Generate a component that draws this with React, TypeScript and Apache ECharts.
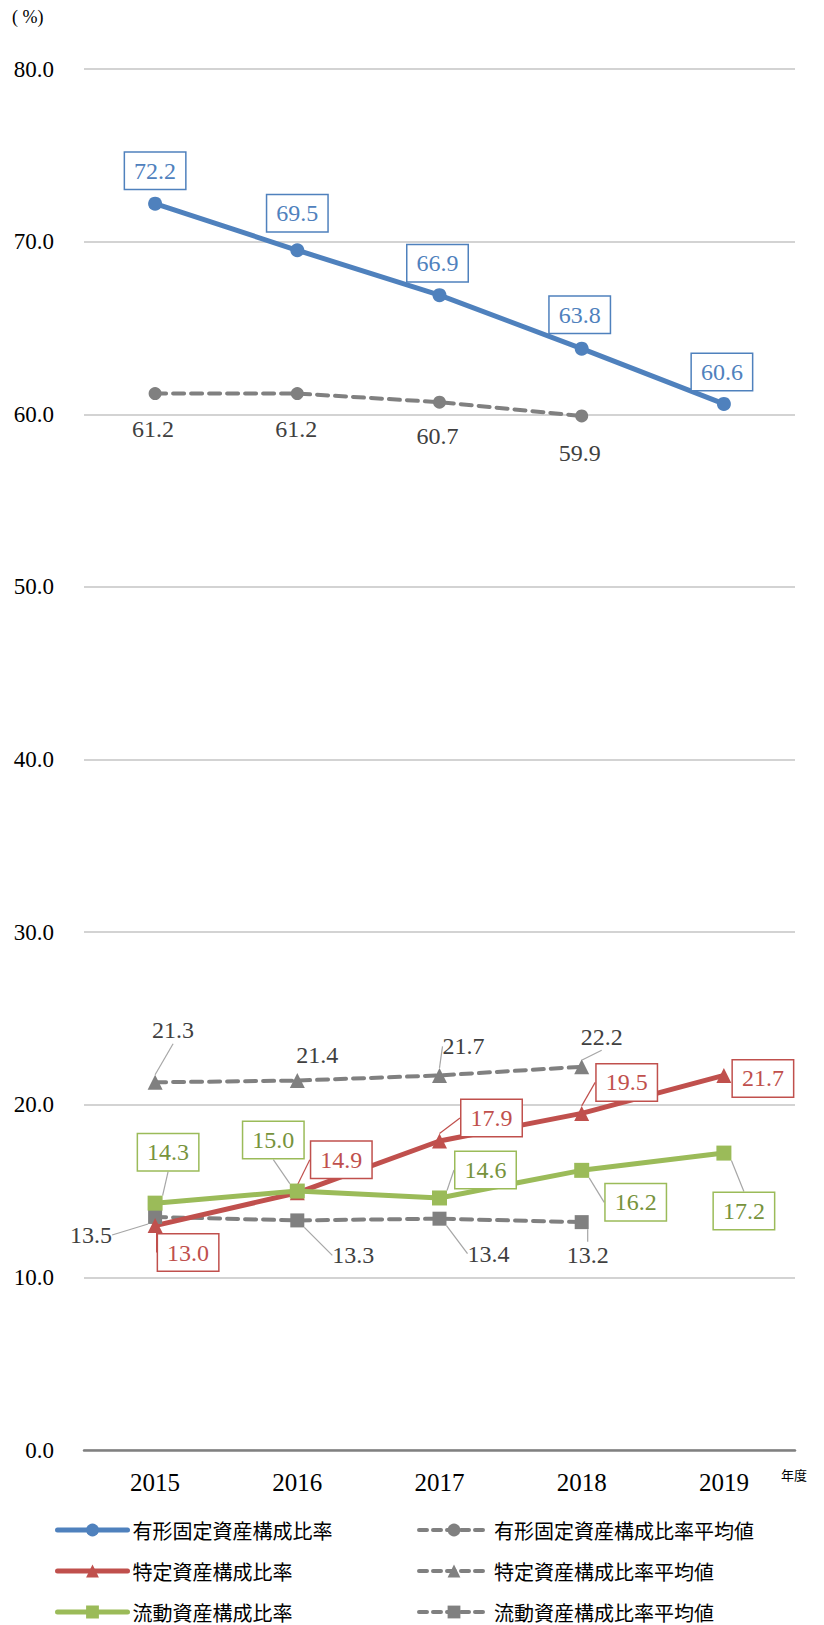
import React, { useEffect, useRef } from "react";
import * as echarts from "echarts";

const years = ["2015", "2016", "2017", "2018", "2019"];
const tangible = [72.2, 69.5, 66.9, 63.8, 60.6];
const tangibleAvg: (number | string)[] = [61.2, 61.2, 60.7, 59.9, "-"];
const specific = [13.0, 14.9, 17.9, 19.5, 21.7];
const specificAvg: (number | string)[] = [21.3, 21.4, 21.7, 22.2, "-"];
const current = [14.3, 15.0, 14.6, 16.2, 17.2];
const currentAvg: (number | string)[] = [13.5, 13.3, 13.4, 13.2, "-"];
const yMin = 0;
const yMax = 80;
const yStep = 10;

const names = [
  "有形固定資産構成比率",
  "特定資産構成比率",
  "流動資産構成比率",
  "有形固定資産構成比率平均値",
  "特定資産構成比率平均値",
  "流動資産構成比率平均値",
];

// label offsets (label centre relative to point), layout only
const offTangible = [[0, -33], [0, -37], [-2, -32], [-2, -34], [-2, -32]];
const offTangibleAvg = [[-2, 35], [-1, 35], [-2, 34], [-2, 37]];
const offSpecific = [[33, 27], [44, -33], [52, -23], [45, -31], [39, 3]];
const offSpecificAvg = [[18, -52], [20, -26], [24, -29], [20, -30]];
const offCurrent = [[13, -51], [-24, -51], [46, -28], [54, 32], [20, 58]];
const offCurrentAvg = [[-64, 18], [56, 35], [49, 35], [6, 33]];

const BLUE = "#4F81BD";
const RED = "#C0504D";
const GREEN = "#9BBB59";
const GREY = "#808080";
const SERIF = "'Liberation Serif', 'Times New Roman', serif";
const CJK = "'Noto Sans CJK JP', 'Noto Sans', sans-serif";
const SOLID_W = 5;
const DASH_W = 4;
const DASH: number[] = [11, 7];

function makeSeries(
  name: string,
  values: (number | string)[],
  color: string,
  symbol: string,
  symbolSize: number,
  dashed: boolean,
  labelColor: string,
  boxed: boolean,
  offsets: number[][],
  leaderColor: string | null,
  noLeader: number[]
) {
  return {
    name,
    type: "line",
    data: values.map((v, i) => ({
      value: v,
      labelLine: { show: leaderColor != null && noLeader.indexOf(i) < 0 },
    })),
    symbol,
    symbolSize,
    showAllSymbol: true,
    itemStyle: { color },
    lineStyle: dashed
      ? { color, width: DASH_W, type: DASH, cap: "round" }
      : { color, width: SOLID_W, cap: "round" },
    label: {
      show: true,
      position: "inside",
      formatter: (p: any) => Number(p.value).toFixed(1),
      fontFamily: SERIF,
      fontSize: 24,
      lineHeight: 27,
      color: labelColor,
      backgroundColor: boxed ? "#ffffff" : "transparent",
      borderColor: boxed ? color : "transparent",
      borderWidth: boxed ? 1.5 : 0,
      padding: boxed ? [5, 9, 4, 9] : 0,
    },
    labelLine: {
      show: leaderColor != null,
      lineStyle: { color: leaderColor || GREY, width: 1.2 },
    },
    labelLayout: (p: any) => {
      const o = offsets[p.dataIndex];
      return o ? { dx: o[0], dy: o[1] } : {};
    },
    emphasis: { disabled: true },
  };
}

function legendItem(name: string, color: string, dashed: boolean) {
  return {
    name,
    itemStyle: { color },
    lineStyle: dashed
      ? { color, width: DASH_W, type: [8, 6], cap: "round" }
      : { color, width: SOLID_W, cap: "round" },
  };
}

export default function App() {
  const ref = useRef<HTMLDivElement>(null);
  useEffect(() => {
    document.body.style.margin = "0";
    if (!ref.current) return;
    const chart = echarts.init(ref.current, null, { renderer: "svg" });
    const legendCommon = {
      orient: "vertical",
      top: 1520,
      height: 105,
      padding: 0,
      itemWidth: 70,
      itemHeight: 16,
      itemGap: 21,
      selectedMode: false,
      textStyle: { fontFamily: CJK, fontSize: 20, lineHeight: 20, color: "#000000" },
    };
    const option: any = {
      animation: false,
      backgroundColor: "#ffffff",
      grid: { left: 84, right: 29, top: 69, bottom: 175 },
      xAxis: {
        type: "category",
        data: years,
        boundaryGap: true,
        axisLine: { lineStyle: { color: "#808080", width: 2.5 } },
        axisTick: { show: false },
        axisLabel: {
          margin: 20,
          fontFamily: SERIF,
          fontSize: 25,
          color: "#000000",
        },
      },
      yAxis: {
        type: "value",
        min: yMin,
        max: yMax,
        interval: yStep,
        axisLine: { show: false },
        axisTick: { show: false },
        splitLine: { lineStyle: { color: "#C4C4C4", width: 1.5 } },
        axisLabel: {
          margin: 30,
          fontFamily: SERIF,
          fontSize: 23,
          color: "#000000",
          formatter: (v: number) => v.toFixed(1),
        },
      },
      legend: [
        {
          ...legendCommon,
          left: 55,
          data: [legendItem(names[0], BLUE, false), legendItem(names[1], RED, false), legendItem(names[2], GREEN, false)],
        },
        {
          ...legendCommon,
          left: 417,
          data: [legendItem(names[3], GREY, true), legendItem(names[4], GREY, true), legendItem(names[5], GREY, true)],
        },
      ],
      graphic: [
        {
          type: "text",
          left: 12,
          top: 8,
          style: { text: "( %)", font: "18px 'Liberation Serif', serif", fill: "#000000" },
        },
        {
          type: "text",
          left: 781,
          top: 1468,
          style: { text: "年度", font: "13px 'Noto Sans CJK JP', sans-serif", fill: "#000000" },
        },
      ],
      series: [
        makeSeries(names[3], tangibleAvg, GREY, "circle", 13, true, "#404040", false, offTangibleAvg, null, []),
        makeSeries(names[4], specificAvg, GREY, "triangle", 15, true, "#404040", false, offSpecificAvg, "#A6A6A6", [1]),
        makeSeries(names[5], currentAvg, GREY, "rect", 14, true, "#404040", false, offCurrentAvg, "#A6A6A6", []),
        makeSeries(names[0], tangible, BLUE, "circle", 14, false, BLUE, true, offTangible, null, []),
        makeSeries(names[1], specific, RED, "triangle", 15, false, RED, true, offSpecific, RED, [4]),
        makeSeries(names[2], current, GREEN, "rect", 15, false, "#77933C", true, offCurrent, "#A6A6A6", []),
      ],
    };
    chart.setOption(option);
    return () => chart.dispose();
  }, []);
  return <div ref={ref} style={{ width: 824, height: 1625 }} />;
}
